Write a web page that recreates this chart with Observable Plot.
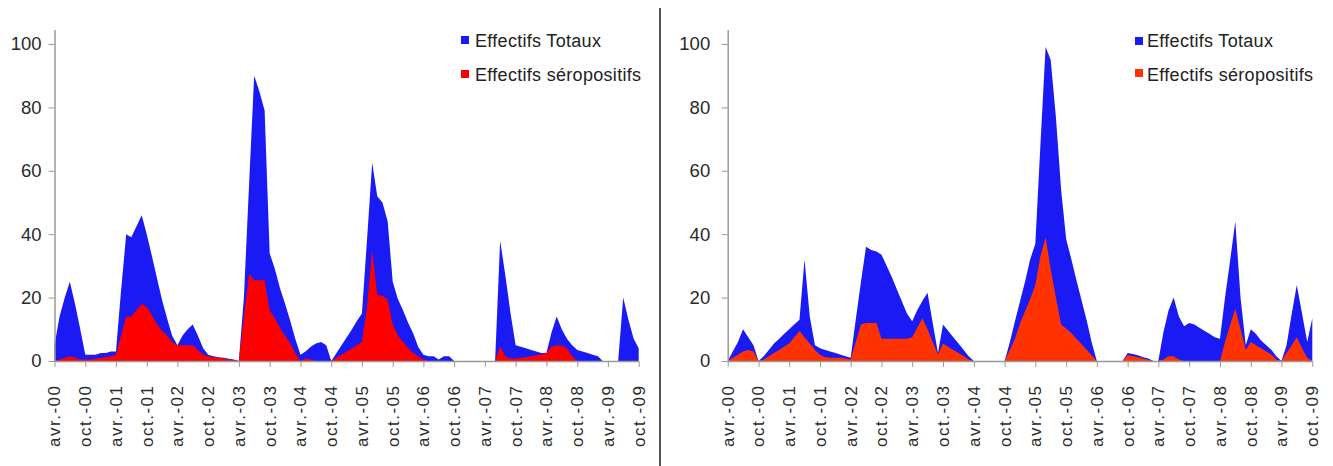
<!DOCTYPE html>
<html><head><meta charset="utf-8">
<script src="https://cdn.jsdelivr.net/npm/d3@7"></script>
<script src="https://cdn.jsdelivr.net/npm/@observablehq/plot@0.6"></script>
<style>
html,body{margin:0;padding:0;background:#fff;}
#wrap{position:relative;width:1333px;height:466px;overflow:hidden;font-family:"Liberation Sans",Arial,sans-serif;}
.panel{position:absolute;top:0;}
.divider{position:absolute;left:659px;top:8px;width:2px;height:458px;background:#555;}
.leg{position:absolute;font-size:18px;line-height:18px;letter-spacing:0.3px;color:#222;white-space:nowrap;}
.sw{position:absolute;width:8px;height:8px;}
g[aria-label="x-axis tick label"] text{letter-spacing:1.5px;}
</style></head><body>
<div id="wrap"></div>
<script>
// Categories: monthly dates from avr. 2000 to oct. 2009
const startDate = new Date(Date.UTC(2000, 3, 1));
const endDate = new Date(Date.UTC(2009, 9, 1));
const seriesNames = ["Effectifs Totaux", "Effectifs séropositifs"];
const tickLabels = ["avr.-00","oct.-00","avr.-01","oct.-01","avr.-02","oct.-02","avr.-03","oct.-03","avr.-04","oct.-04",
                    "avr.-05","oct.-05","avr.-06","oct.-06","avr.-07","oct.-07","avr.-08","oct.-08","avr.-09","oct.-09"];
const yTicks = [0, 20, 40, 60, 80, 100];

// Left panel
const totalA = [
  5,14,20,25,18,10,2,2,2,
  2.5,2.5,3,3,22,40,39,42.5,46,40,33,26,
  19,13,8,5,8,10,11.5,8,4,2,1.5,1.2,
  1,0.7,0.5,0,20,56,90,85,79,34,29,23,
  18,12.5,7,2,3,4.5,5.5,6,5,0,2.5,5,
  7.5,10,12.5,15,38,62.5,52,50,44,25,19.5,16,
  12,8.5,4.5,2,1.5,1.5,0.5,1.5,1.5,0,0,0,
  0,0,0,0,0,0,38,27,15,5,4.5,4,
  3.5,3,2.5,2.5,9,14,10,7,5,3.5,3,2.5,
  2,1.5,0,0,0,0,20,13,7,4
];
const posA = [
  0,0.5,1,1.5,1,0.5,0.5,0.5,0.8,
  1,1.2,1.5,2,8,14,14,16,18,17,14.5,11.5,
  9.5,8,6,5,5,5,5,3.5,2,1.5,1.2,1,
  0.8,0.5,0.3,0,14,27.5,25.5,25.5,25.5,16,13.5,10.5,
  8,5.5,2.5,0,0.8,0.5,0,0,0,0,1,2,
  3,4,5,6,17,35,21,20.5,19.5,11.5,8,6,
  4,2.5,1.5,0.5,0,0,0,0,0,0,0,0,
  0,0,0,0,0,0,4.5,1.5,0.8,0.8,1,1.2,
  1.5,1.8,2,2.5,4.5,5,4.8,4,1.5,0,0,0,
  0,0,0,0,0,0,0,0,0,0
];
// Right panel
const totalB = [
  0,3,6,10,7.5,5,0,1.5,3.5,
  5.5,7,8.5,10,11.5,13,32,14,5,4,3.5,3,
  2.5,2,1.5,1,13,25,36,35,34.5,33.5,30,26.5,
  22.5,18.5,15,12.5,16,19,21.5,12,2.5,11.5,9.5,7.5,
  5.5,3.5,1.5,0,0,0,0,0,0,0,6,12.5,
  19,25.5,32,37,68,99,95,77,54,38.5,32,25.5,
  19,12.5,6,0,0,0,0,0,0,2.5,2.2,1.8,
  1.2,0.8,0,0,9,16,20,14,11,12,11.5,10.5,
  9.5,8.5,7.5,7,20,32,44,20,5,10,8.5,6.5,
  5,3.5,1.5,0,5,15,24,15,6,13.5
];
const posB = [
  0,1,2,3,3.5,3,0,0.5,1.5,
  2.5,3.5,4.5,5.5,7.5,9.5,7.5,5.5,3.5,2,1.2,1,
  1,1,0.8,0.5,6,11.5,12,12,12,7,7,7,
  7,7,7,7.5,10.5,13.5,10,6,2,5.5,4.5,3.5,
  2.5,1.5,0.5,0,0,0,0,0,0,0,3.5,7,
  12,16,19.5,24,33,39,29,20,11.5,10.2,8.8,7,
  5.3,3.5,1.8,0,0,0,0,0,0,1.8,1.6,1.2,
  0.8,0.4,0,0,0.5,1.5,1.5,0.5,0,0,0,0,
  0,0,0,0,6,11.5,16.5,10,3.5,6,5,4,
  3,2,0.5,0,2.5,5,7.5,4,1,0
];
const blue = "#1a1af5";
const colorsA = [blue, "#ff0000"];
const colorsB = [blue, "#ff3300"];

const months = d3.utcMonth.range(startDate, d3.utcMonth.offset(endDate, 1));
const tickDates = months.filter((d, i) => i % 6 === 0);
const labelMap = new Map(tickDates.map((d, i) => [+d, tickLabels[i]]));

const wrap = document.getElementById("wrap");

function panel(opts) {
  const data = months.map((d, i) => ({date: d, total: opts.total[i], pos: opts.pos[i]}));
  const chart = Plot.plot({
    width: opts.width, height: 466,
    marginLeft: opts.marginLeft, marginRight: opts.marginRight,
    marginTop: 30, marginBottom: 105,
    style: {fontFamily: '"Liberation Sans", Arial, sans-serif', background: "transparent", overflow: "visible"},
    x: {type: "utc", domain: [months[0], months[months.length - 1]], label: null},
    y: {domain: [0, 104.4], label: null},
    marks: [
      Plot.areaY(data, {x: "date", y: "total", fill: opts.colors[0]}),
      Plot.areaY(data, {x: "date", y: "pos", fill: opts.colors[1]}),
      Plot.ruleY([0], {stroke: "#999", strokeWidth: 1.5}),
      Plot.ruleX([months[0]], {y1: 0, y2: 104.4, stroke: "#999", strokeWidth: 1.5}),
      Plot.axisX({ticks: tickDates, tickFormat: d => labelMap.get(+d), tickRotate: -90, tickSize: 6, tickPadding: 17,
                  fontSize: 17, stroke: "#999", fill: "#2a2a2a", textAnchor: "end", label: null}),
      Plot.axisY({ticks: yTicks, tickSize: 6, tickPadding: opts.tickPad, fontSize: 18.5, stroke: "#999", fill: "#2a2a2a", label: null})
    ]
  });
  const div = document.createElement("div");
  div.className = "panel";
  div.style.left = opts.left + "px";
  div.appendChild(chart);
  wrap.appendChild(div);

  // legend
  opts.legend.forEach((row, k) => {
    const sw = document.createElement("div");
    sw.className = "sw";
    sw.style.left = row.sx + "px";
    sw.style.top = row.sy + "px";
    sw.style.background = opts.colors[k];
    wrap.appendChild(sw);
    const t = document.createElement("div");
    t.className = "leg";
    t.style.left = row.tx + "px";
    t.style.top = row.ty + "px";
    t.textContent = seriesNames[k];
    wrap.appendChild(t);
  });
}

panel({left: 0, width: 660, marginLeft: 54.5, marginRight: 21.3, tickPad: 7.5,
  total: totalA, pos: posA, colors: colorsA,
  legend: [{sx: 461, sy: 35.5, tx: 475, ty: 32}, {sx: 461, sy: 70, tx: 475, ty: 65.5}]});
panel({left: 666, width: 667, marginLeft: 61.7, marginRight: 20.7, tickPad: 12,
  total: totalB, pos: posB, colors: colorsB,
  legend: [{sx: 1135, sy: 37, tx: 1147, ty: 32}, {sx: 1135, sy: 69, tx: 1147, ty: 65.5}]});

const dv = document.createElement("div");
dv.className = "divider";
wrap.appendChild(dv);
</script>
</body></html>
